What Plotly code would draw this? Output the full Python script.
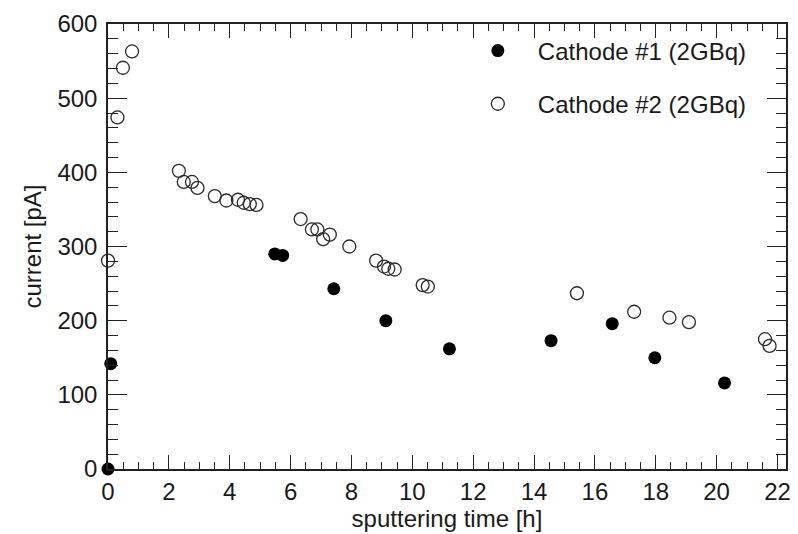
import plotly.graph_objects as go

# Cathode #1 (filled)
c1_time = [0.0, 0.09, 5.48, 5.74, 7.42, 9.13, 11.22, 14.56, 16.57, 17.97, 20.26]
c1_current = [0, 142, 290, 288, 243, 200, 162, 173, 196, 150, 116]

# Cathode #2 (open)
c2_time = [0.0, 0.31, 0.49, 0.79, 2.33, 2.49, 2.76, 2.94, 3.51, 3.89, 4.27, 4.46, 4.66, 4.88,
           6.33, 6.70, 6.88, 7.07, 7.29, 7.93, 8.81, 9.07, 9.21, 9.42, 10.34, 10.51,
           15.41, 17.29, 18.45, 19.09, 21.59, 21.74]
c2_current = [281, 474, 541, 563, 402, 387, 387, 379, 368, 362, 363, 359, 357, 356,
              337, 323, 323, 310, 316, 300, 281, 273, 270, 269, 248, 246,
              237, 212, 204, 198, 175, 166]

x_ticks = [0, 2, 4, 6, 8, 10, 12, 14, 16, 18, 20, 22]
y_ticks = [0, 100, 200, 300, 400, 500, 600]

FONT = "Liberation Sans, Arial, Helvetica, sans-serif"

fig = go.Figure()
fig.add_trace(go.Scatter(
    x=c1_time, y=c1_current, mode="markers", name="Cathode #1 (2GBq)",
    legendgroup="a", cliponaxis=False,
    marker=dict(symbol="circle", size=13, color="black", line=dict(width=0)),
))
fig.add_trace(go.Scatter(
    x=c2_time, y=c2_current, mode="markers", name="Cathode #2 (2GBq)",
    legendgroup="b", cliponaxis=False,
    marker=dict(symbol="circle-open", size=13, color="#2a2a2a", line=dict(width=1.3)),
))

fig.update_layout(
    width=798, height=534,
    margin=dict(l=108, r=12, t=24, b=65),
    paper_bgcolor="white", plot_bgcolor="white",
    font=dict(family=FONT, color="#1a1a1a", size=20),
    showlegend=True,
    legend=dict(
        x=0.516, y=0.99, xanchor="left", yanchor="top",
        bgcolor="rgba(0,0,0,0)", font=dict(size=24, family=FONT),
        tracegroupgap=19, itemwidth=70,
    ),
    xaxis=dict(
        range=[0, 22.28], tickvals=x_ticks, ticks="inside", ticklen=14, tickwidth=1.3,
        tickcolor="#222", showline=True, linecolor="#222", linewidth=1.5,
        mirror="ticks", showgrid=False, zeroline=False, automargin=False,
        tickfont=dict(size=24),
        minor=dict(dtick=0.5, ticks="inside", ticklen=7, tickwidth=1.1, tickcolor="#222", showgrid=False),
        title=dict(text="sputtering time [h]", font=dict(size=24), standoff=4),
    ),
    yaxis=dict(
        range=[0, 600], tickvals=y_ticks, ticks="inside", ticklen=19, tickwidth=1.3,
        tickcolor="#222", showline=True, linecolor="#222", linewidth=1.5,
        mirror="ticks", showgrid=False, zeroline=False, automargin=False,
        tickfont=dict(size=24), ticklabelstandoff=4,
        minor=dict(dtick=20, ticks="inside", ticklen=10, tickwidth=1.1, tickcolor="#222", showgrid=False),
        title=dict(text="current [pA]", font=dict(size=24), standoff=9),
    ),
)

fig.write_html(
    "out.html",
    config={"displayModeBar": False},
    post_script="document.body.style.margin='0';document.body.style.overflow='hidden';",
)
